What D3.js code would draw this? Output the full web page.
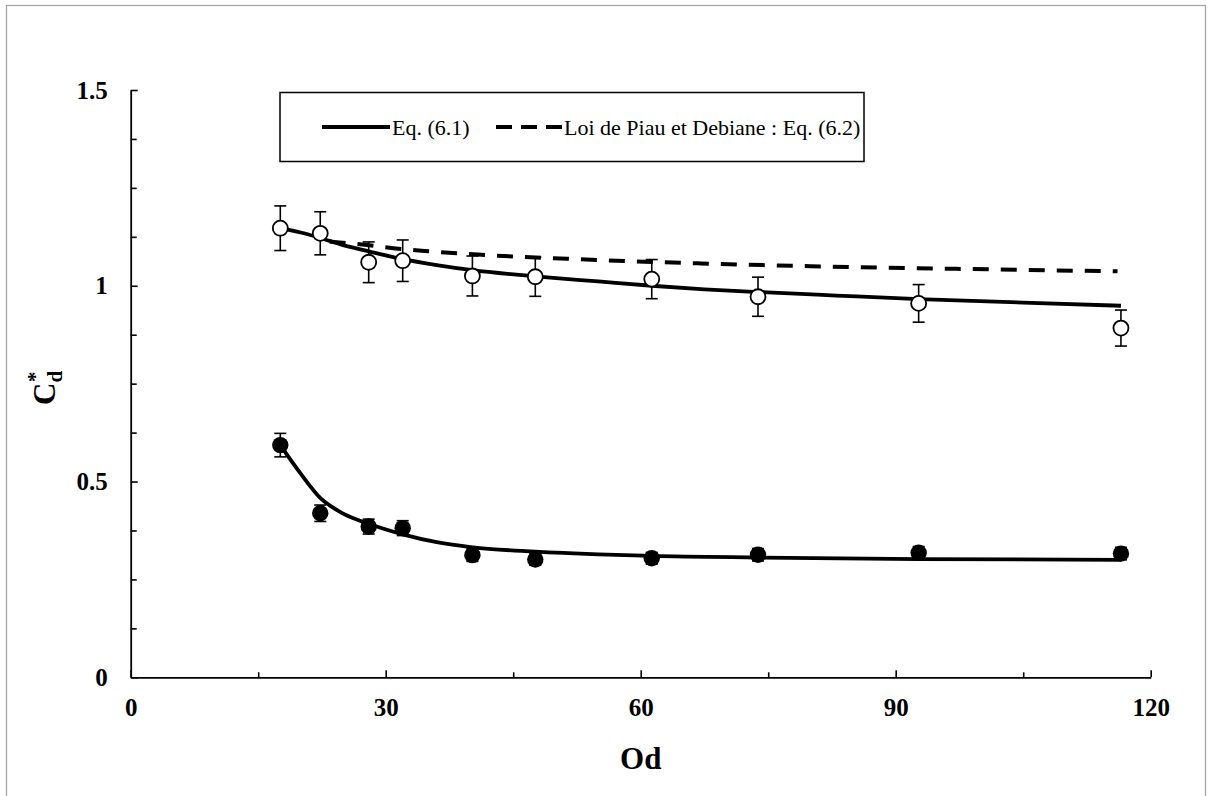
<!DOCTYPE html>
<html>
<head>
<meta charset="utf-8">
<script src="https://cdn.jsdelivr.net/npm/d3@7"></script>
<style>
  html, body { margin: 0; padding: 0; background: #fff; }
  svg { display: block; }
</style>
</head>
<body>
<script>
// ---- Data ----
const od         = [17.6, 22.3, 28.0, 32.0, 40.2, 47.6, 61.3, 73.8, 92.7, 116.5];
const cdOpen     = [1.147, 1.134, 1.060, 1.064, 1.025, 1.023, 1.017, 0.972, 0.955, 0.892];
const errOpen    = [0.057, 0.055, 0.052, 0.053, 0.051, 0.050, 0.050, 0.050, 0.048, 0.046];
const cdFilled   = [0.593, 0.419, 0.385, 0.381, 0.312, 0.301, 0.304, 0.313, 0.318, 0.316];
const errFilled  = [0.030, 0.021, 0.019, 0.019, 0.016, 0.015, 0.015, 0.016, 0.016, 0.016];

// Eq. (6.1) fitted curves
const fitOpenOd   = [17.6, 20, 22.3, 25, 28, 32, 36, 40.2, 47.6, 55, 61.3, 67.5, 73.8, 83, 92.7, 105, 116.5];
const fitOpenCd   = [1.147, 1.136, 1.122, 1.104, 1.088, 1.068, 1.053, 1.040, 1.024, 1.011, 1.000, 0.991, 0.984, 0.975, 0.966, 0.957, 0.949];
const fitFilledOd = [17.6, 20, 22.3, 25, 28, 32, 36, 40.2, 47.6, 55, 61.3, 73.8, 92.7, 116.5];
const fitFilledCd = [0.593, 0.520, 0.458, 0.418, 0.392, 0.365, 0.345, 0.332, 0.321, 0.314, 0.310, 0.306, 0.302, 0.300];

// Loi de Piau et Debiane : Eq. (6.2)
const piauOd = [23.4, 27.8, 30.9, 34.6, 41.3, 51.4, 67.1, 80, 95, 116.1];
const piauCd = [1.113, 1.104, 1.096, 1.089, 1.079, 1.069, 1.057, 1.050, 1.044, 1.037];

const xTicksMajor = [0, 30, 60, 90, 120];
const xTicksMinor = [15, 45, 75, 105];
const yTicksMajor = [0, 0.5, 1, 1.5];
const yTicksMinor = [0.125, 0.25, 0.375, 0.625, 0.75, 0.875, 1.125, 1.25, 1.375];

const legendLabels = ["Eq. (6.1)", "Loi de Piau et Debiane : Eq. (6.2)"];

// ---- Drawing ----
const W = 1212, H = 796;
const svg = d3.select("body").append("svg").attr("width", W).attr("height", H);
const serif = "'Liberation Serif', 'Times New Roman', Times, serif";

svg.append("rect").attr("x", 6.5).attr("y", 5.5).attr("width", 1199).attr("height", 800)
  .attr("fill", "#fff").attr("stroke", "#a6a6a6").attr("stroke-width", 1.3);

const x = d3.scaleLinear().domain([0, 120]).range([130.7, 1150.7]);
const y = d3.scaleLinear().domain([0, 1.5]).range([677.3, 90]);

const fmt = d => d3.format("")(d);

// minor ticks
svg.append("g").attr("transform", `translate(0,${y(0)})`)
  .call(d3.axisBottom(x).tickValues(xTicksMinor).tickSize(-5).tickSizeOuter(0).tickFormat(""))
  .call(g => g.select(".domain").remove());
svg.append("g").attr("transform", `translate(${x(0)},0)`)
  .call(d3.axisLeft(y).tickValues(yTicksMinor).tickSize(-6).tickSizeOuter(0).tickFormat(""))
  .call(g => g.select(".domain").remove());

// major axes
svg.append("g").attr("transform", `translate(0,${y(0)})`)
  .call(d3.axisBottom(x).tickValues(xTicksMajor).tickSize(-7).tickSizeOuter(0).tickPadding(21).tickFormat(fmt));
svg.append("g").attr("transform", `translate(${x(0)},0)`)
  .call(d3.axisLeft(y).tickValues(yTicksMajor).tickSize(-7).tickSizeOuter(0).tickPadding(23).tickFormat(fmt));

svg.selectAll(".tick line").attr("stroke", "#000").attr("stroke-width", 1.6);
svg.selectAll(".domain").attr("stroke", "#000").attr("stroke-width", 1.8);
svg.selectAll(".tick text").style("font-family", serif).style("font-weight", "bold")
  .style("font-size", "25px").attr("fill", "#000");

// axis titles
svg.append("text").attr("x", 640.7).attr("y", 769).attr("text-anchor", "middle")
  .attr("font-family", serif).attr("font-weight", "bold").attr("font-size", 31).text("Od");

const yt = svg.append("text").attr("transform", "translate(55,405) rotate(-90)")
  .attr("font-family", serif).attr("font-weight", "bold").attr("font-size", 31);
yt.append("tspan").text("C");
yt.append("tspan").attr("font-size", 21).attr("dy", 7).text("d");
yt.append("tspan").attr("font-size", 21).attr("dx", -11).attr("dy", -20).text("*");

// curves
const line = d3.line().x(d => x(d[0])).y(d => y(d[1])).curve(d3.curveMonotoneX);
svg.append("path").datum(d3.zip(piauOd, piauCd)).attr("d", line)
  .attr("fill", "none").attr("stroke", "#000").attr("stroke-width", 4)
  .attr("stroke-dasharray", "16,12");
svg.append("path").datum(d3.zip(fitOpenOd, fitOpenCd)).attr("d", line)
  .attr("fill", "none").attr("stroke", "#000").attr("stroke-width", 3.8);
svg.append("path").datum(d3.zip(fitFilledOd, fitFilledCd)).attr("d", line)
  .attr("fill", "none").attr("stroke", "#000").attr("stroke-width", 3.8);

// error bars
function errorBars(vals, errs) {
  const g = svg.append("g").attr("stroke", "#000").attr("stroke-width", 1.6);
  od.forEach((o, i) => {
    const cx = x(o), y1 = y(vals[i] + errs[i]), y2 = y(vals[i] - errs[i]);
    g.append("line").attr("x1", cx).attr("x2", cx).attr("y1", y1).attr("y2", y2);
    g.append("line").attr("x1", cx - 6).attr("x2", cx + 6).attr("y1", y1).attr("y2", y1);
    g.append("line").attr("x1", cx - 6).attr("x2", cx + 6).attr("y1", y2).attr("y2", y2);
  });
}
errorBars(cdOpen, errOpen);
errorBars(cdFilled, errFilled);

// markers
svg.append("g").selectAll("circle").data(d3.zip(od, cdOpen)).join("circle")
  .attr("cx", d => x(d[0])).attr("cy", d => y(d[1])).attr("r", 7.5)
  .attr("fill", "#fff").attr("stroke", "#000").attr("stroke-width", 1.8);
svg.append("g").selectAll("circle").data(d3.zip(od, cdFilled)).join("circle")
  .attr("cx", d => x(d[0])).attr("cy", d => y(d[1])).attr("r", 8.2)
  .attr("fill", "#000");

// legend
const lg = svg.append("g");
lg.append("rect").attr("x", 280).attr("y", 92.5).attr("width", 584).attr("height", 69)
  .attr("fill", "#fff").attr("stroke", "#000").attr("stroke-width", 1.5);
lg.append("line").attr("x1", 322).attr("x2", 390).attr("y1", 127).attr("y2", 127)
  .attr("stroke", "#000").attr("stroke-width", 3.8);
lg.append("text").attr("x", 392).attr("y", 135).attr("font-family", serif).attr("font-size", 22)
  .text(legendLabels[0]);
lg.append("line").attr("x1", 496).attr("x2", 562).attr("y1", 127).attr("y2", 127)
  .attr("stroke", "#000").attr("stroke-width", 4).attr("stroke-dasharray", "16,9");
lg.append("text").attr("x", 564).attr("y", 135).attr("font-family", serif).attr("font-size", 22)
  .text(legendLabels[1]);
</script>
</body>
</html>
